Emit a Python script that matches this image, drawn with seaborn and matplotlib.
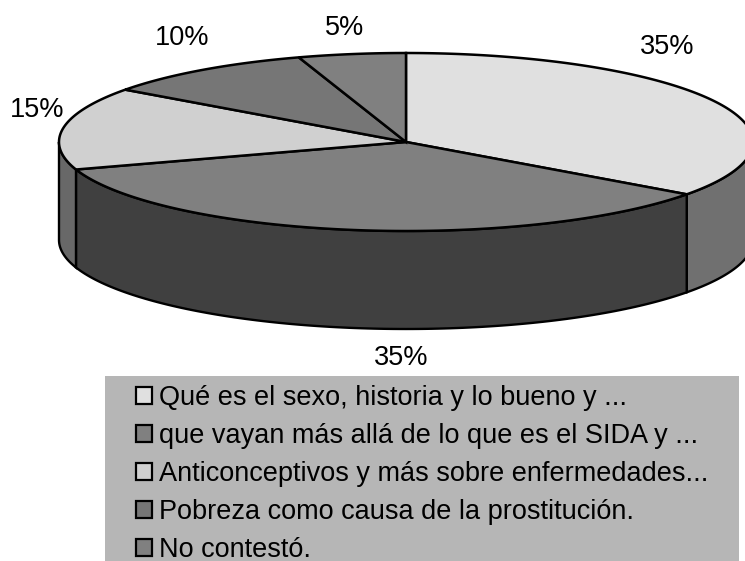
import numpy as np
import matplotlib
matplotlib.use("Agg")
import matplotlib.pyplot as plt
from matplotlib.patches import Patch, Rectangle
import seaborn as sns

# chart data
categories = [
    "Qué es el sexo, historia y lo bueno y ...",
    "que vayan más allá de lo que es el SIDA y ...",
    "Anticonceptivos y más sobre enfermedades...",
    "Pobreza como causa de la prostitución.",
    "No contestó.",
]
percent = [35, 35, 15, 10, 5]

top_colors = ["#e0e0e0", "#808080", "#d0d0d0", "#767676", "#808080"]
side_colors = ["#707070", "#404040", "#686868", "#5e5e5e", "#666666"]
label_pos = [(667, 47), (401, 358), (37, 110), (182.5, 38), (345, 28)]

# pie geometry in image pixels
CX, CY = 406, 142
RX, RY = 347, 89
DEPTH = 98

sns.set_theme(style="white")
plt.rcParams["font.family"] = ["Liberation Sans", "DejaVu Sans"]

fig = plt.figure(figsize=(7.45, 5.61), dpi=100)
ax = fig.add_axes([0, 0, 1, 1])
ax.set_xlim(0, 745)
ax.set_ylim(561, 0)
ax.axis("off")


def rim(t):
    return CX + RX * np.sin(t), CY - RY * np.cos(t)


ends = np.cumsum(percent) / sum(percent) * 2 * np.pi
starts = np.concatenate([[0], ends[:-1]])

# side wall, only the front half shows
for a, b, color in zip(starts, ends, side_colors):
    lo, hi = max(a, np.pi / 2), min(b, 3 * np.pi / 2)
    if lo >= hi:
        continue
    t = np.linspace(lo, hi, 120)
    x, y = rim(t)
    ax.fill(np.r_[x, x[::-1]], np.r_[y, y[::-1] + DEPTH], fc=color, ec="black", lw=1.7, zorder=2)

# top face
for a, b, color in zip(starts, ends, top_colors):
    t = np.linspace(a, b, 200)
    x, y = rim(t)
    ax.fill(np.r_[CX, x], np.r_[CY, y], fc=color, ec="black", lw=1.8, zorder=3)

for value, (px, py) in zip(percent, label_pos):
    ax.text(px, py, f"{value}%", fontsize=19.5, color="black", ha="center", va="center")

# legend block
ax.add_patch(Rectangle((105, 376), 634, 185, fc="#b6b6b6", ec="none", zorder=1))
handles = [Patch(fc=c, ec="black", lw=1.6) for c in top_colors]
ax.legend(
    handles, categories,
    loc="upper left", bbox_to_anchor=(136 / 745, 1 - 385 / 561),
    frameon=False, fontsize=19.5, labelcolor="black", labelspacing=0.44,
    handlelength=0.59, handleheight=0.59, handletextpad=0.25,
    borderpad=0, borderaxespad=0,
)

fig.savefig("out.png", dpi=100)
